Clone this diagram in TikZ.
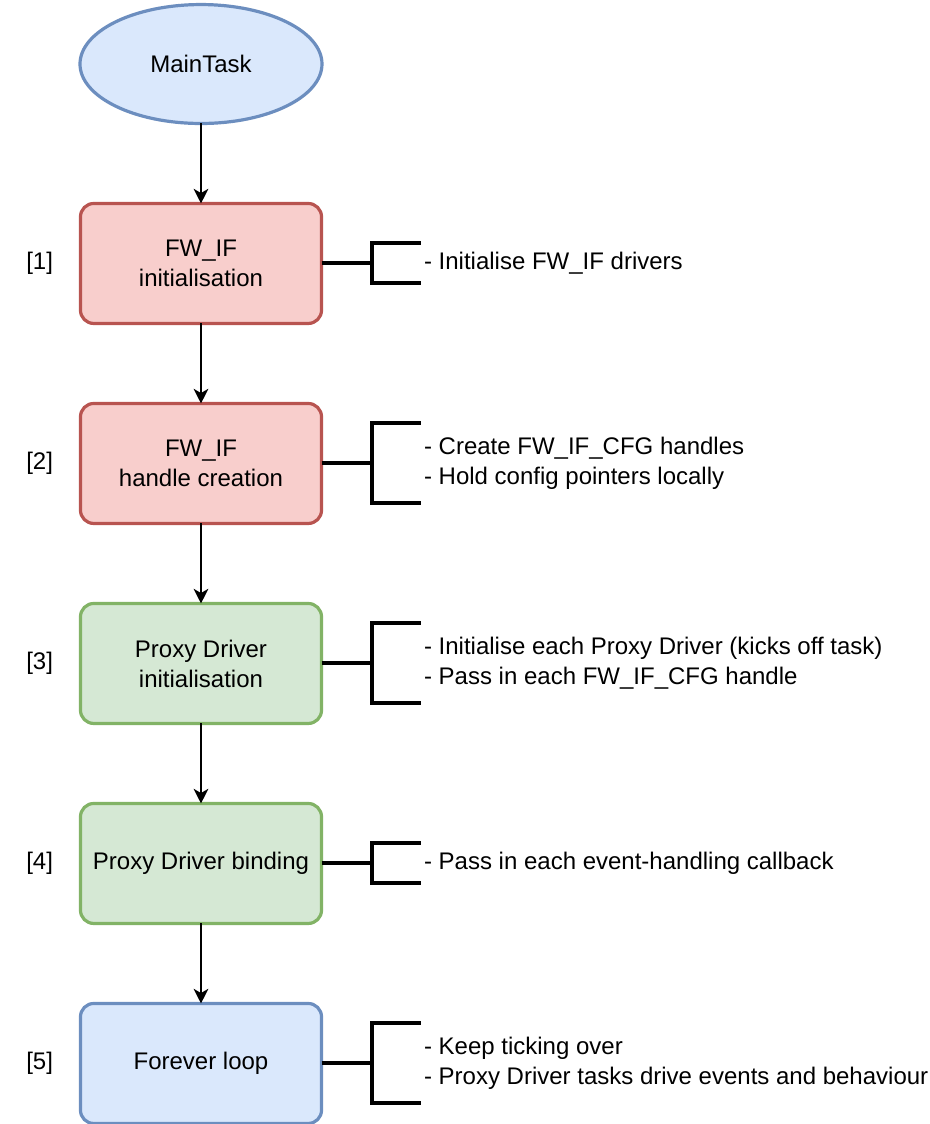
\documentclass[tikz,border=0pt]{standalone}
\usepackage{fontspec}
\setmainfont{Liberation Sans}
\usetikzlibrary{arrows.meta,chains,positioning,shapes.geometric}

\definecolor{blueFill}{HTML}{DAE8FC}
\definecolor{blueLine}{HTML}{6C8EBF}
\definecolor{redFill}{HTML}{F8CECC}
\definecolor{redLine}{HTML}{B85450}
\definecolor{greenFill}{HTML}{D5E8D4}
\definecolor{greenLine}{HTML}{82B366}

% bracket from a box out to its note, #2 = half height (px)
\newcommand{\notebracket}[2]{%
  \draw[BracketLine] (#1.east) -- ++(50,0) ++(49,#2) -- ++(-49,0) -- ++(0,-2*#2) -- ++(49,0);}

\begin{document}
\begin{tikzpicture}
      [
        x=0.375pt, y=0.375pt,
        font=\fontsize{9pt}{11.25pt}\selectfont,
        start chain = going below,
        node distance = 30pt,
        StepBox/.style={draw, rounded corners=5pt, line width=1.2pt, minimum width=90.4pt, minimum height=45pt, inner sep=0pt, outer sep=0pt, align=center, on chain},
        TaskStart/.style={ellipse, draw=blueLine, fill=blueFill, line width=1.2pt, minimum width=90.75pt, minimum height=44.6pt, inner sep=0pt, outer sep=0pt, on chain},
        Flow/.style={-{Stealth[length=5.5pt, width=5.5pt, inset=1.6pt]}, line width=0.8pt},
        BracketLine/.style={line width=1.5pt},
        NoteText/.style={inner sep=0pt, align=left, right=38.25pt of #1},
        StepLabel/.style={inner sep=0pt, left=10.1pt of #1},
      ]

      \useasboundingbox (-201,64) rectangle (729,-1060);

      \node [TaskStart] (main) at (0,0) {MainTask};
      \node [StepBox, draw=redLine, fill=redFill] (fwinit) {FW\_IF\\initialisation};
      \node [StepBox, draw=redLine, fill=redFill] (fwhandle) {FW\_IF\\handle creation};
      \node [StepBox, draw=greenLine, fill=greenFill] (pdinit) {Proxy Driver\\initialisation};
      \node [StepBox, draw=greenLine, fill=greenFill] (pdbind) {Proxy Driver binding};
      \node [StepBox, draw=blueLine, fill=blueFill] (loop) {Forever loop};

      \draw[Flow] (main) -- (fwinit);
      \draw[Flow] (fwinit) -- (fwhandle);
      \draw[Flow] (fwhandle) -- (pdinit);
      \draw[Flow] (pdinit) -- (pdbind);
      \draw[Flow] (pdbind) -- (loop);

      \node [StepLabel=fwinit] (lab1) {[1]};
      \node [StepLabel=fwhandle] (lab2) {[2]};
      \node [StepLabel=pdinit] (lab3) {[3]};
      \node [StepLabel=pdbind] (lab4) {[4]};
      \node [StepLabel=loop] (lab5) {[5]};

      \notebracket{fwinit}{20}
      \notebracket{fwhandle}{40}
      \notebracket{pdinit}{40}
      \notebracket{pdbind}{20}
      \notebracket{loop}{40}

      \node [NoteText=fwinit] (note1) {- Initialise FW\_IF drivers};
      \node [NoteText=fwhandle] (note2) {- Create FW\_IF\_CFG handles\\- Hold config pointers locally};
      \node [NoteText=pdinit] (note3) {- Initialise each Proxy Driver (kicks off task)\\- Pass in each FW\_IF\_CFG handle};
      \node [NoteText=pdbind] (note4) {- Pass in each event-handling callback};
      \node [NoteText=loop] (note5) {- Keep ticking over\\- Proxy Driver tasks drive events and behaviour};
    \end{tikzpicture}
\end{document}
